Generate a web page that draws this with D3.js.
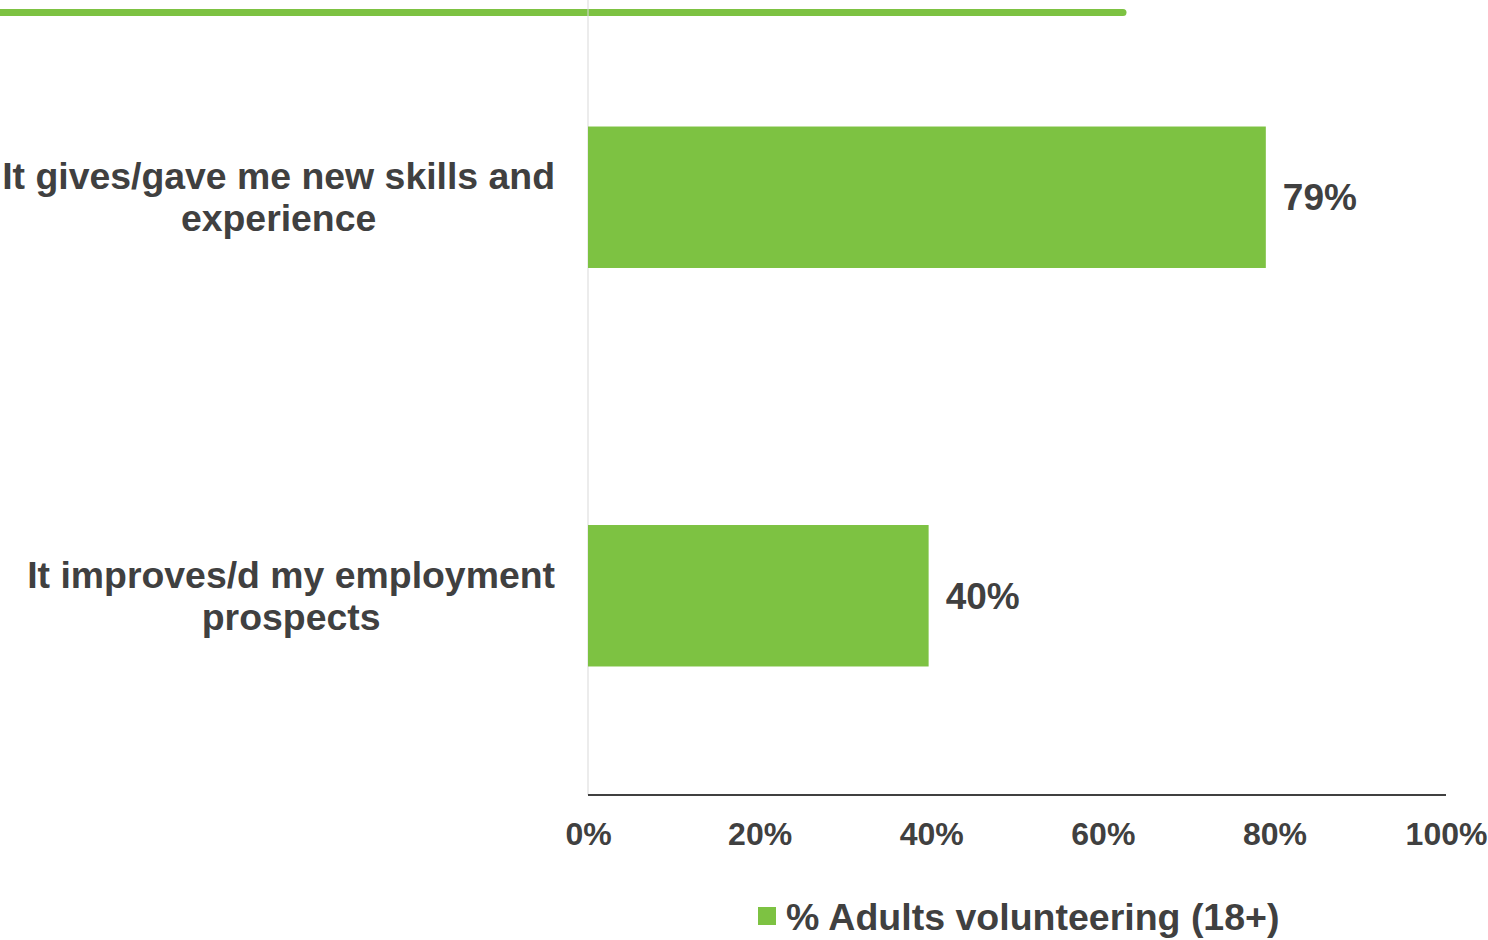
<!DOCTYPE html>
<html>
<head>
<meta charset="utf-8">
<script src="https://cdn.jsdelivr.net/npm/d3@7"></script>
<style>
  html, body { margin: 0; padding: 0; background: #ffffff; }
  svg { display: block; font-family: "Liberation Sans", Arial, sans-serif; font-weight: bold; }
</style>
</head>
<body>
<svg id="chart" width="1488" height="940"></svg>
<script>
const categories = [
  ["It gives/gave me new skills and", "experience"],
  ["It improves/d my employment", "prospects"]
];
const values = [79, 39.7];
const tickValues = [0, 20, 40, 60, 80, 100];
const tickLabels = ["0%", "20%", "40%", "60%", "80%", "100%"];
const seriesName = "% Adults volunteering (18+)";

const green = "#7dc242";
const textColor = "#404040";

const svg = d3.select("#chart");
const plotLeft = 588, plotRight = 1446, plotTop = -2, plotBottom = 795;

const x = d3.scaleLinear().domain([0, 100]).range([plotLeft, plotRight]);
const y = d3.scaleBand().domain(d3.range(categories.length)).range([plotTop, plotBottom]).paddingInner(0.645).paddingOuter(0.3225);

// top decorative line
svg.append("line")
  .attr("x1", -10).attr("x2", 1123).attr("y1", 12.5).attr("y2", 12.5)
  .attr("stroke", green).attr("stroke-width", 7).attr("stroke-linecap", "round");

// vertical category axis line
svg.append("line")
  .attr("x1", plotLeft).attr("x2", plotLeft).attr("y1", 0).attr("y2", plotBottom)
  .attr("stroke", "#d9d9d9").attr("stroke-width", 1);

// bars
svg.selectAll("rect.bar").data(values).join("rect")
  .attr("class", "bar")
  .attr("x", x(0))
  .attr("y", (d, i) => y(i))
  .attr("width", d => x(d) - x(0))
  .attr("height", y.bandwidth())
  .attr("fill", green);

// value labels
svg.selectAll("text.val").data(values).join("text")
  .attr("class", "val")
  .attr("x", d => x(d) + 17)
  .attr("y", (d, i) => y(i) + y.bandwidth() / 2 + 13)
  .attr("font-size", 37)
  .attr("fill", textColor)
  .text(d => Math.round(d) + "%");

// category labels
categories.forEach((lines, i) => {
  const g = svg.append("g");
  const cy = y(i) + y.bandwidth() / 2;
  const texts = lines.map((ln, j) => g.append("text")
    .attr("y", cy - 8 + j * 42)
    .attr("font-size", 37.4)
    .attr("fill", textColor)
    .attr("text-anchor", "middle")
    .text(ln));
  const maxW = d3.max(texts, t => t.node().getComputedTextLength());
  texts.forEach(t => t.attr("x", 555 - maxW / 2));
});

// x axis
const axis = d3.axisBottom(x).tickValues(tickValues).tickFormat((d, i) => tickLabels[i]).tickSize(0).tickPadding(0);
const ax = svg.append("g").attr("transform", `translate(0,${plotBottom})`).call(axis);
ax.select(".domain").attr("stroke", textColor).attr("stroke-width", 2).attr("d", `M${plotLeft},0H${plotRight}`);
ax.selectAll(".tick text")
  .attr("dy", null).attr("y", 50)
  .attr("font-size", 32).attr("font-family", "Liberation Sans, Arial, sans-serif")
  .attr("font-weight", "bold").attr("fill", textColor);

// legend
const lg = svg.append("g");
lg.append("rect").attr("x", 758).attr("y", 907).attr("width", 18).attr("height", 18).attr("fill", green);
lg.append("text").attr("x", 786).attr("y", 930).attr("font-size", 37.5).attr("fill", textColor).text(seriesName);
</script>
</body>
</html>
